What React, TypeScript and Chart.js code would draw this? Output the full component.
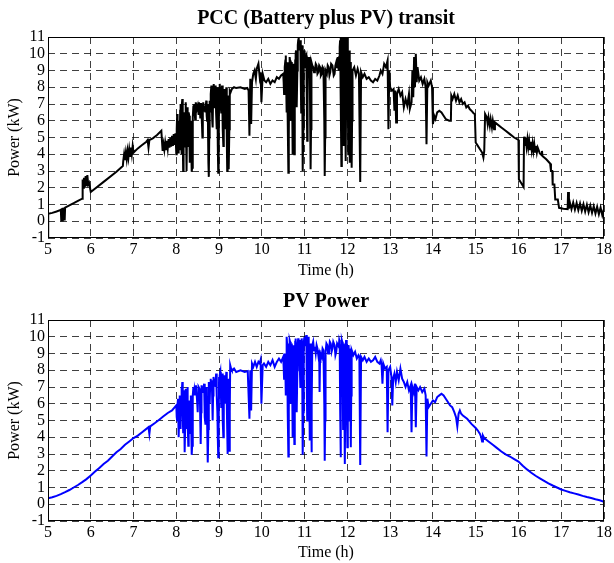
import React, { useEffect, useRef } from "react";
import { Chart, registerables } from "chart.js";
Chart.register(...registerables);

const pccTitle = "PCC (Battery plus PV) transit";
const pvTitle = "PV Power";
const xTitle = "Time (h)";
const yTitle = "Power (kW)";
const xTicks = [5, 6, 7, 8, 9, 10, 11, 12, 13, 14, 15, 16, 17, 18];
const yTicks = [-1, 0, 1, 2, 3, 4, 5, 6, 7, 8, 9, 10, 11];

const pccTime = [
  5.0, 5.005, 5.1, 5.2, 5.3, 5.31, 5.32, 5.33, 5.34, 5.35,
  5.36, 5.37, 5.38, 5.39, 5.4, 5.5, 5.6, 5.7, 5.8, 5.81,
  5.82, 5.84, 5.86, 5.88, 5.9, 5.92, 5.94, 5.96, 5.98, 6.0,
  6.3, 6.6, 6.75, 6.76, 6.78, 6.8, 6.82, 6.84, 6.86, 6.88,
  6.9, 6.92, 6.94, 6.96, 6.98, 7.0, 7.1, 7.2, 7.3, 7.33,
  7.35, 7.37, 7.45, 7.55, 7.65, 7.68, 7.7, 7.72, 7.74, 7.76,
  7.78, 7.8, 7.82, 7.84, 7.86, 7.88, 7.9, 7.92, 7.94, 7.96,
  7.98, 8.0, 8.01, 8.02, 8.03, 8.04, 8.05, 8.06, 8.07, 8.08,
  8.09, 8.1, 8.11, 8.12, 8.13, 8.14, 8.15, 8.16, 8.17, 8.18,
  8.19, 8.2, 8.21, 8.22, 8.23, 8.24, 8.25, 8.26, 8.27, 8.28,
  8.29, 8.3, 8.31, 8.32, 8.33, 8.34, 8.35, 8.36, 8.37, 8.38,
  8.39, 8.4, 8.41, 8.42, 8.43, 8.44, 8.45, 8.46, 8.48, 8.5,
  8.52, 8.53, 8.55, 8.56, 8.57, 8.58, 8.6, 8.61, 8.62, 8.63,
  8.65, 8.66, 8.68, 8.7, 8.71, 8.72, 8.73, 8.74, 8.75, 8.76,
  8.77, 8.78, 8.79, 8.8, 8.81, 8.82, 8.83, 8.84, 8.85, 8.86,
  8.87, 8.88, 8.89, 8.9, 8.91, 8.92, 8.93, 8.94, 8.95, 8.96,
  8.97, 8.98, 8.99, 9.0, 9.01, 9.02, 9.03, 9.04, 9.05, 9.06,
  9.07, 9.08, 9.09, 9.1, 9.11, 9.12, 9.13, 9.14, 9.15, 9.16,
  9.17, 9.18, 9.19, 9.2, 9.21, 9.22, 9.23, 9.24, 9.25, 9.27,
  9.3, 9.35, 9.4, 9.5, 9.6, 9.66, 9.69, 9.71, 9.73, 9.75,
  9.77, 9.8, 9.83, 9.86, 9.88, 9.92, 9.95, 9.97, 9.99, 10.02,
  10.06, 10.1, 10.15, 10.2, 10.25, 10.3, 10.35, 10.4, 10.45, 10.5,
  10.51, 10.52, 10.53, 10.54, 10.55, 10.56, 10.57, 10.58, 10.59, 10.6,
  10.61, 10.62, 10.63, 10.64, 10.65, 10.66, 10.67, 10.68, 10.69, 10.7,
  10.71, 10.72, 10.73, 10.74, 10.75, 10.76, 10.77, 10.78, 10.79, 10.8,
  10.81, 10.82, 10.83, 10.84, 10.85, 10.86, 10.87, 10.88, 10.89, 10.9,
  10.91, 10.92, 10.93, 10.94, 10.95, 10.96, 10.97, 10.98, 10.99, 11.0,
  11.01, 11.02, 11.03, 11.04, 11.05, 11.06, 11.07, 11.08, 11.09, 11.1,
  11.11, 11.12, 11.13, 11.14, 11.15, 11.16, 11.18, 11.2, 11.22, 11.24,
  11.26, 11.28, 11.3, 11.32, 11.34, 11.36, 11.38, 11.4, 11.42, 11.44,
  11.46, 11.47, 11.48, 11.49, 11.52, 11.54, 11.56, 11.58, 11.6, 11.62,
  11.65, 11.68, 11.7, 11.72, 11.74, 11.76, 11.77, 11.78, 11.8, 11.81,
  11.82, 11.83, 11.84, 11.85, 11.86, 11.87, 11.88, 11.89, 11.9, 11.91,
  11.92, 11.93, 11.94, 11.95, 11.96, 11.97, 11.98, 11.99, 12.0, 12.01,
  12.02, 12.03, 12.04, 12.05, 12.06, 12.07, 12.08, 12.09, 12.1, 12.11,
  12.12, 12.16, 12.2, 12.24, 12.27, 12.3, 12.32, 12.36, 12.4, 12.45,
  12.5, 12.55, 12.6, 12.65, 12.7, 12.75, 12.78, 12.82, 12.86, 12.9,
  12.94, 12.96, 12.98, 13.0, 13.04, 13.08, 13.1, 13.12, 13.14, 13.16,
  13.2, 13.24, 13.28, 13.32, 13.36, 13.4, 13.44, 13.46, 13.5, 13.52,
  13.54, 13.56, 13.58, 13.6, 13.62, 13.64, 13.68, 13.72, 13.76, 13.8,
  13.83, 13.85, 13.87, 13.9, 13.95, 13.98, 14.0, 14.03, 14.06, 14.1,
  14.15, 14.2, 14.25, 14.3, 14.38, 14.42, 14.43, 14.46, 14.5, 14.54,
  14.58, 14.62, 14.66, 14.7, 14.74, 14.78, 14.82, 14.86, 14.9, 14.95,
  14.98, 15.0, 15.05, 15.1, 15.15, 15.18, 15.2, 15.22, 15.26, 15.28,
  15.3, 15.33, 15.35, 15.38, 15.4, 15.43, 15.45, 15.5, 15.6, 15.7,
  15.8, 15.9, 16.0, 16.01, 16.06, 16.12, 16.13, 16.15, 16.17, 16.19,
  16.21, 16.23, 16.25, 16.27, 16.29, 16.31, 16.33, 16.35, 16.37, 16.39,
  16.41, 16.43, 16.45, 16.5, 16.54, 16.55, 16.56, 16.65, 16.74, 16.76,
  16.79, 16.8, 16.84, 16.86, 16.92, 16.95, 17.05, 17.15, 17.16, 17.18,
  17.2, 17.24, 17.28, 17.32, 17.36, 17.4, 17.44, 17.48, 17.52, 17.56,
  17.6, 17.64, 17.68, 17.72, 17.76, 17.8, 17.84, 17.88, 17.92, 17.96,
  18.0,
];
const pccPower = [
  -0.9, 0.45, 0.5, 0.58, 0.68, 0.05, 0.78, 0.05, 0.8, 0.05,
  0.8, 0.05, 0.82, 0.05, 0.82, 0.95, 1.08, 1.22, 1.35, 2.5,
  2.0, 2.6, 2.05, 2.7, 2.1, 2.75, 2.2, 2.3, 2.3, 1.75,
  2.35, 2.95, 3.3, 3.6, 4.0, 3.65, 4.1, 3.7, 4.2, 3.8,
  4.3, 3.9, 4.4, 4.0, 4.5, 4.1, 4.35, 4.55, 4.75, 4.85,
  4.4, 4.85, 4.95, 5.15, 5.4, 4.2, 4.6, 4.25, 4.7, 4.3,
  4.8, 4.35, 4.9, 4.4, 5.0, 4.45, 5.1, 4.5, 5.2, 4.55,
  5.25, 4.0, 5.5, 6.4, 4.5, 4.1, 6.0, 5.8, 4.3, 4.6,
  6.6, 7.0, 5.0, 4.0, 6.8, 7.3, 5.2, 3.0, 4.8, 6.5,
  5.5, 4.4, 6.2, 7.1, 4.8, 3.0, 5.5, 6.8, 5.0, 4.5,
  6.5, 6.3, 4.2, 3.5, 5.0, 6.0, 4.3, 2.95, 3.2, 5.0,
  6.2, 6.9, 6.3, 7.0, 6.5, 6.1, 6.9, 7.1, 6.7, 6.9,
  6.4, 7.1, 6.8, 6.2, 7.0, 7.0, 5.8, 5.0, 6.5, 7.1,
  6.6, 6.9, 6.5, 7.2, 6.3, 6.0, 6.8, 7.0, 3.5, 2.65,
  5.0, 7.2, 6.8, 6.5, 7.6, 8.1, 7.0, 6.0, 5.6, 7.5,
  8.2, 7.8, 6.8, 7.0, 7.9, 8.1, 6.5, 5.5, 7.2, 8.0,
  4.5, 2.9, 3.5, 7.8, 8.0, 8.2, 7.5, 6.8, 6.5, 7.7,
  8.1, 7.2, 5.5, 4.5, 6.5, 7.9, 7.0, 6.2, 5.5, 7.4,
  8.0, 5.0, 3.0, 3.4, 7.5, 5.0, 3.1, 5.5, 7.8, 7.7,
  7.9, 8.0, 7.95, 8.0, 7.9, 7.95, 7.8, 5.1, 8.5, 5.8,
  8.3, 8.8, 9.0, 8.5, 9.1, 9.4, 8.6, 8.9, 7.1, 8.8,
  8.4, 8.3, 8.5, 8.2, 8.4, 8.3, 8.6, 8.5, 8.7, 8.8,
  8.3, 7.6, 8.5, 9.2, 9.6, 9.9, 8.0, 6.5, 8.5, 9.5,
  6.0, 2.9, 5.0, 9.0, 9.8, 9.6, 8.0, 6.0, 8.5, 9.5,
  7.0, 4.0, 7.5, 9.4, 6.5, 4.0, 7.0, 9.6, 10.0, 10.2,
  8.5, 6.8, 9.0, 10.5, 10.8, 11.0, 10.5, 10.2, 10.6, 10.8,
  8.5, 6.5, 9.0, 10.5, 7.0, 3.0, 5.5, 9.8, 10.2, 10.0,
  9.2, 9.4, 9.8, 9.9, 7.5, 4.8, 7.0, 9.6, 9.8, 9.3,
  9.6, 9.8, 6.0, 3.1, 5.5, 9.5, 9.3, 9.2, 8.9, 9.0,
  9.4, 9.3, 8.8, 8.9, 9.3, 9.2, 8.7, 8.8, 9.2, 9.1,
  6.0, 2.7, 5.0, 9.0, 8.8, 9.3, 9.2, 8.7, 8.9, 9.4,
  9.3, 8.7, 8.8, 9.3, 9.5, 9.2, 9.8, 9.4, 9.0, 9.8,
  10.4, 10.8, 11.0, 7.0, 3.3, 7.5, 10.5, 11.0, 11.0, 8.0,
  4.5, 8.5, 11.0, 7.5, 3.6, 7.0, 10.8, 11.0, 11.0, 8.0,
  4.0, 7.5, 10.2, 7.0, 3.5, 6.5, 9.5, 6.0, 3.2, 6.0,
  9.0, 9.2, 8.7, 9.1, 8.8, 2.35, 8.9, 8.6, 8.8, 8.5,
  8.6, 8.4, 8.3, 8.5, 8.4, 8.7, 9.0, 8.8, 9.4, 9.2,
  9.6, 5.5, 9.0, 8.0, 7.8, 7.9, 6.6, 7.8, 5.9, 7.6,
  7.9, 7.5, 7.7, 6.8, 7.3, 6.9, 7.6, 6.7, 7.1, 9.0,
  7.4, 9.8, 8.0, 10.0, 8.3, 9.2, 8.4, 8.6, 8.2, 8.5,
  8.0, 4.6, 8.3, 8.1, 8.4, 8.0, 5.8, 6.3, 6.1, 6.5,
  6.6, 6.5, 6.3, 6.1, 6.0, 6.0, 7.5, 7.3, 7.6, 7.2,
  7.5, 7.1, 7.3, 7.0, 7.1, 6.8, 6.9, 6.7, 6.6, 6.45,
  6.4, 4.7, 4.5, 4.3, 4.1, 3.8, 4.2, 6.4, 6.2, 5.8,
  6.2, 5.7, 6.1, 5.6, 6.0, 5.5, 5.9, 5.8, 5.6, 5.4,
  5.2, 5.0, 4.85, 2.5, 2.3, 2.05, 5.05, 4.5, 5.0, 4.45,
  4.9, 4.4, 4.8, 4.3, 4.75, 4.25, 4.65, 4.2, 4.6, 4.15,
  4.5, 4.1, 4.4, 4.05, 3.95, 4.2, 3.9, 3.7, 3.45, 3.0,
  3.0, 2.2, 2.2, 1.3, 1.3, 0.8, 0.75, 0.72, 1.75, 0.75,
  1.15, 0.72, 1.12, 0.69, 1.09, 0.66, 1.06, 0.62, 1.02, 0.58,
  0.98, 0.54, 0.94, 0.5, 0.9, 0.46, 0.86, 0.42, 0.82, 0.36,
  0.75,
];

const pvTime = [
  5.0, 5.1, 5.2, 5.3, 5.4, 5.5, 5.6, 5.7, 5.8, 5.9,
  6.0, 6.1, 6.2, 6.3, 6.4, 6.5, 6.6, 6.7, 6.8, 6.9,
  7.0, 7.1, 7.2, 7.3, 7.35, 7.37, 7.39, 7.5, 7.6, 7.7,
  7.8, 7.9, 8.0, 8.01, 8.02, 8.03, 8.04, 8.05, 8.06, 8.07,
  8.08, 8.09, 8.1, 8.11, 8.12, 8.13, 8.14, 8.15, 8.16, 8.17,
  8.18, 8.19, 8.2, 8.21, 8.22, 8.23, 8.24, 8.25, 8.26, 8.27,
  8.28, 8.29, 8.3, 8.31, 8.32, 8.33, 8.34, 8.35, 8.36, 8.37,
  8.38, 8.39, 8.4, 8.41, 8.42, 8.43, 8.44, 8.46, 8.48, 8.49,
  8.5, 8.51, 8.52, 8.54, 8.55, 8.56, 8.57, 8.58, 8.59, 8.61,
  8.62, 8.64, 8.65, 8.66, 8.67, 8.68, 8.69, 8.71, 8.72, 8.73,
  8.74, 8.75, 8.76, 8.77, 8.78, 8.79, 8.8, 8.81, 8.83, 8.84,
  8.85, 8.86, 8.87, 8.89, 8.9, 8.92, 8.93, 8.94, 8.95, 8.96,
  8.97, 8.98, 8.99, 9.0, 9.01, 9.02, 9.03, 9.04, 9.05, 9.06,
  9.07, 9.08, 9.09, 9.1, 9.11, 9.12, 9.13, 9.14, 9.15, 9.16,
  9.17, 9.18, 9.19, 9.2, 9.21, 9.22, 9.23, 9.24, 9.25, 9.26,
  9.28, 9.3, 9.35, 9.4, 9.5, 9.6, 9.67, 9.71, 9.73, 9.75,
  9.77, 9.8, 9.84, 9.88, 9.92, 9.95, 9.97, 9.99, 10.02, 10.05,
  10.1, 10.15, 10.2, 10.25, 10.3, 10.35, 10.4, 10.45, 10.5, 10.51,
  10.52, 10.53, 10.54, 10.55, 10.56, 10.57, 10.58, 10.59, 10.6, 10.61,
  10.62, 10.63, 10.64, 10.65, 10.66, 10.67, 10.68, 10.69, 10.7, 10.71,
  10.72, 10.73, 10.74, 10.75, 10.76, 10.77, 10.78, 10.79, 10.8, 10.81,
  10.82, 10.83, 10.84, 10.85, 10.86, 10.87, 10.88, 10.89, 10.9, 10.91,
  10.92, 10.93, 10.94, 10.95, 10.96, 10.97, 10.98, 10.99, 11.0, 11.01,
  11.02, 11.03, 11.04, 11.05, 11.06, 11.07, 11.08, 11.09, 11.1, 11.11,
  11.12, 11.13, 11.14, 11.15, 11.16, 11.17, 11.18, 11.2, 11.22, 11.24,
  11.26, 11.28, 11.3, 11.32, 11.34, 11.35, 11.36, 11.37, 11.4, 11.42,
  11.44, 11.46, 11.47, 11.48, 11.49, 11.51, 11.53, 11.55, 11.57, 11.59,
  11.61, 11.63, 11.65, 11.67, 11.7, 11.72, 11.74, 11.76, 11.78, 11.8,
  11.81, 11.82, 11.83, 11.84, 11.85, 11.86, 11.87, 11.88, 11.89, 11.9,
  11.91, 11.92, 11.93, 11.94, 11.95, 11.96, 11.97, 11.98, 11.99, 12.0,
  12.01, 12.02, 12.03, 12.04, 12.05, 12.06, 12.07, 12.08, 12.09, 12.1,
  12.14, 12.18, 12.22, 12.26, 12.28, 12.3, 12.32, 12.36, 12.4, 12.45,
  12.5, 12.55, 12.6, 12.65, 12.7, 12.75, 12.78, 12.8, 12.82, 12.84,
  12.88, 12.92, 12.94, 12.96, 13.0, 13.03, 13.05, 13.07, 13.1, 13.13,
  13.16, 13.2, 13.24, 13.28, 13.32, 13.36, 13.4, 13.44, 13.48, 13.5,
  13.52, 13.55, 13.58, 13.6, 13.62, 13.66, 13.7, 13.75, 13.8, 13.83,
  13.85, 13.87, 13.9, 13.95, 14.0, 14.05, 14.1, 14.15, 14.2, 14.25,
  14.3, 14.35, 14.4, 14.45, 14.5, 14.54, 14.57, 14.6, 14.63, 14.66,
  14.7, 14.8, 14.9, 15.0, 15.05, 15.1, 15.13, 15.15, 15.17, 15.2,
  15.3, 15.4, 15.5, 15.6, 15.7, 15.8, 15.9, 16.0, 16.1, 16.2,
  16.3, 16.4, 16.5, 16.6, 16.7, 16.8, 16.9, 17.0, 17.1, 17.2,
  17.3, 17.4, 17.5, 17.6, 17.7, 17.8, 17.9, 18.0,
];
const pvPower = [
  0.35, 0.42, 0.5, 0.6, 0.72, 0.85, 1.0, 1.15, 1.32, 1.5,
  1.72, 1.95, 2.17, 2.4, 2.6, 2.85, 3.1, 3.3, 3.55, 3.75,
  3.95, 4.1, 4.3, 4.5, 4.6, 4.2, 4.65, 4.85, 5.05, 5.25,
  5.45, 5.6, 5.9, 5.2, 5.0, 6.0, 6.3, 5.0, 4.0, 5.5,
  6.5, 5.8, 4.5, 6.2, 7.0, 6.5, 7.3, 5.5, 4.3, 5.8,
  6.8, 4.8, 3.1, 5.0, 6.9, 5.8, 4.5, 6.0, 7.0, 5.0,
  3.5, 5.2, 6.2, 5.0, 4.2, 5.8, 6.5, 4.5, 2.95, 3.5,
  5.5, 6.5, 7.0, 6.6, 6.8, 6.5, 7.0, 7.1, 6.4, 6.0,
  5.5, 6.5, 7.0, 6.9, 6.8, 5.0, 3.6, 5.5, 7.1, 6.7,
  6.9, 7.0, 7.2, 6.0, 5.2, 4.8, 6.5, 7.0, 5.0, 3.0,
  2.5, 4.5, 7.3, 6.8, 6.0, 7.0, 7.5, 7.0, 7.4, 6.2,
  5.0, 6.5, 7.6, 7.2, 7.5, 7.0, 7.8, 7.0, 6.5, 5.5,
  4.0, 2.8, 4.5, 7.6, 7.2, 7.7, 7.9, 7.0, 5.8, 7.0,
  7.8, 6.5, 5.0, 4.0, 5.8, 7.7, 7.4, 6.8, 6.0, 7.3,
  7.9, 6.0, 4.5, 3.0, 4.8, 7.5, 5.0, 3.2, 5.5, 8.3,
  8.1, 8.0, 8.1, 7.9, 8.0, 7.9, 7.95, 5.1, 8.0, 5.6,
  8.4, 8.2, 8.5, 8.2, 8.5, 8.4, 8.6, 6.0, 8.3, 8.4,
  8.2, 8.5, 8.3, 8.6, 8.2, 8.5, 8.7, 8.5, 8.8, 8.2,
  7.5, 8.4, 9.0, 8.0, 6.5, 8.5, 10.0, 9.6, 9.0, 5.5,
  2.85, 5.5, 9.4, 9.8, 9.7, 8.0, 6.0, 8.2, 9.6, 7.0,
  4.0, 7.0, 9.5, 6.0, 3.6, 6.5, 9.7, 9.9, 9.3, 7.5,
  5.5, 8.0, 9.6, 9.9, 9.4, 9.6, 9.8, 8.5, 7.0, 8.5,
  9.5, 9.9, 9.7, 6.0, 2.95, 5.5, 9.6, 9.9, 10.0, 9.5,
  9.6, 9.9, 10.1, 7.5, 5.0, 7.5, 9.8, 10.0, 9.9, 7.0,
  3.8, 7.0, 9.6, 6.0, 3.1, 6.0, 9.5, 9.7, 9.2, 9.4,
  9.0, 9.5, 9.3, 8.9, 9.2, 6.7, 8.5, 9.0, 8.8, 9.3,
  9.2, 6.0, 2.6, 5.0, 9.1, 9.6, 9.5, 9.0, 9.2, 9.7,
  9.6, 9.1, 9.3, 9.7, 9.5, 8.9, 9.1, 9.6, 9.6, 9.4,
  9.8, 9.7, 6.0, 2.8, 6.5, 9.5, 9.8, 9.7, 7.0, 4.5,
  7.5, 9.6, 6.0, 2.4, 6.0, 9.4, 9.8, 9.7, 6.5, 3.4,
  6.5, 9.5, 7.5, 5.0, 7.5, 9.3, 6.5, 3.4, 6.5, 9.2,
  8.9, 9.1, 8.7, 8.9, 8.8, 2.35, 8.8, 8.6, 8.8, 8.5,
  8.7, 8.5, 8.6, 8.8, 8.5, 8.4, 8.6, 8.3, 7.2, 8.4,
  8.1, 8.2, 4.3, 8.0, 8.2, 7.6, 5.9, 7.5, 7.8, 7.3,
  7.9, 7.4, 8.1, 7.5, 7.3, 7.0, 7.3, 6.8, 7.1, 4.3,
  7.0, 6.7, 7.2, 4.6, 7.0, 6.8, 7.0, 6.7, 6.9, 6.5,
  2.85, 6.3, 5.8, 6.0, 6.2, 6.1, 6.4, 6.5, 6.6, 6.5,
  6.3, 6.1, 5.9, 5.8, 5.5, 5.2, 4.65, 5.4, 5.6, 5.4,
  5.3, 5.1, 4.8, 4.55, 4.4, 4.2, 4.0, 3.75, 4.1, 3.95,
  3.75, 3.55, 3.35, 3.15, 2.98, 2.85, 2.7, 2.55, 2.3, 2.08,
  1.88, 1.7, 1.55, 1.4, 1.25, 1.12, 1.0, 0.88, 0.8, 0.72,
  0.65, 0.58, 0.5, 0.43, 0.37, 0.3, 0.24, 0.15,
];

const FONT = "'Liberation Serif', 'Times New Roman', serif";

const framePlugin = {
  id: "frame",
  afterDatasetsDraw(chart: any) {
    const { ctx, chartArea: a } = chart;
    ctx.save();
    ctx.strokeStyle = "#000";
    ctx.lineWidth = 1;
    ctx.setLineDash([]);
    ctx.strokeRect(
      Math.round(a.left) + 0.5,
      Math.round(a.top) + 0.5,
      Math.round(a.right - a.left) - 1,
      Math.round(a.bottom - a.top) - 1
    );
    ctx.restore();
  },
};

type Props = {
  title: string;
  time: number[];
  power: number[];
  color: string;
  height: number;
  xAxisHeight: number;
  xTitlePad: number;
};

function PowerChart({ title, time, power, color, height, xAxisHeight, xTitlePad }: Props) {
  const ref = useRef<HTMLCanvasElement>(null);
  useEffect(() => {
    const chart = new Chart(ref.current as HTMLCanvasElement, {
      type: "line",
      data: {
        datasets: [
          {
            data: time.map((t, i) => ({ x: t, y: power[i] })),
            borderColor: color,
            borderWidth: 2,
            pointRadius: 0,
            tension: 0,
            fill: false,
          },
        ],
      },
      options: {
        responsive: false,
        animation: false,
        devicePixelRatio: 1,
        layout: { padding: { left: 0, right: 8, top: 0, bottom: 0 } },
        plugins: {
          legend: { display: false },
          tooltip: { enabled: false },
          title: {
            display: true,
            text: title,
            fullSize: false,
            color: "#000",
            font: { family: FONT, size: 20, weight: "bold" },
            padding: { top: 7, bottom: 6 },
          },
        },
        scales: {
          x: {
            type: "linear",
            min: 5,
            max: 18,
            afterBuildTicks: (s: any) => {
              s.ticks = xTicks.map((v) => ({ value: v }));
            },
            afterFit: (s: any) => {
              s.height = xAxisHeight;
            },
            ticks: {
              color: "#000",
              font: { family: FONT, size: 16 },
              padding: 2,
              maxRotation: 0,
              autoSkip: false,
            },
            grid: { color: "rgba(0,0,0,0.75)", drawTicks: false, lineWidth: 1 },
            border: { display: false, dash: [7, 5] },
            title: {
              display: true,
              text: xTitle,
              color: "#000",
              font: { family: FONT, size: 16 },
              padding: { top: 0, bottom: xTitlePad },
            },
          },
          y: {
            type: "linear",
            min: -1,
            max: 11,
            afterBuildTicks: (s: any) => {
              s.ticks = yTicks.map((v) => ({ value: v }));
            },
            afterFit: (s: any) => {
              s.width = 48;
            },
            ticks: {
              color: "#000",
              font: { family: FONT, size: 16 },
              padding: 3,
              autoSkip: false,
            },
            grid: { color: "rgba(0,0,0,0.75)", drawTicks: false, lineWidth: 1 },
            border: { display: false, dash: [7, 5] },
            title: {
              display: true,
              text: yTitle,
              color: "#000",
              font: { family: FONT, size: 16 },
              padding: { top: 5, bottom: 0 },
            },
          },
        },
      } as any,
      plugins: [framePlugin],
    });
    return () => chart.destroy();
  }, []);
  return <canvas ref={ref} width={614} height={height} style={{ display: "block" }} />;
}

export default function App() {
  return (
    <div style={{ position: "fixed", left: 0, top: 0, width: 614, height: 563, background: "#fff" }}>
      <div style={{ position: "absolute", left: 0, top: 0 }}>
        <PowerChart title={pccTitle} time={pccTime} power={pccPower} color="#000000" height={282} xAxisHeight={44} xTitlePad={2} />
      </div>
      <div style={{ position: "absolute", left: 0, top: 283 }}>
        <PowerChart title={pvTitle} time={pvTime} power={pvPower} color="#0000ff" height={280} xAxisHeight={42} xTitlePad={1} />
      </div>
    </div>
  );
}
